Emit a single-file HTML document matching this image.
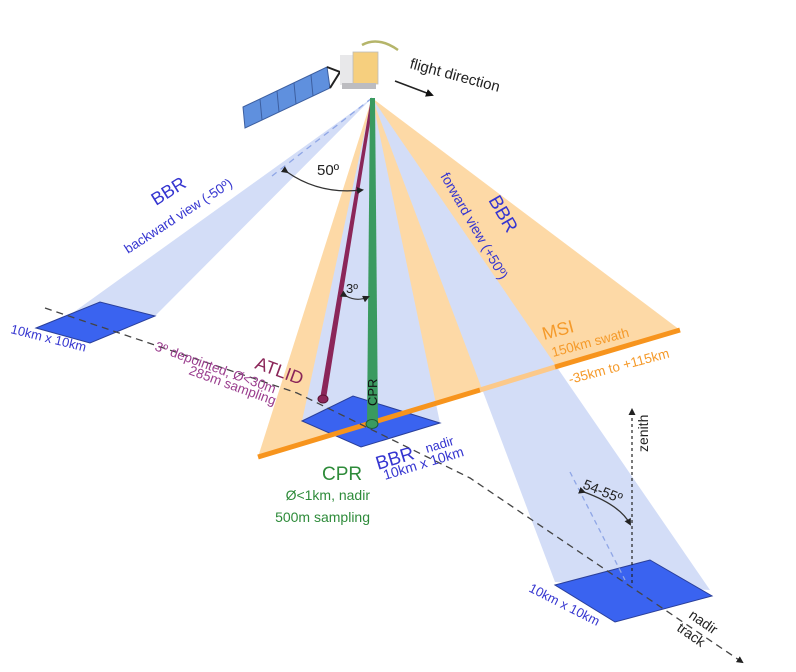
<!DOCTYPE html>
<html><head><meta charset="utf-8"><style>
html,body{margin:0;padding:0;background:#fff;}
svg{display:block;font-family:"Liberation Sans",sans-serif;}
</style></head><body>
<svg width="796" height="672" viewBox="0 0 796 672">
<defs>
<marker id="ah" markerWidth="8" markerHeight="8" refX="6" refY="4" orient="auto" markerUnits="userSpaceOnUse"><path d="M0,0 L8,4 L0,8 Z" fill="#111"/></marker>
<marker id="ahs" markerWidth="7" markerHeight="7" refX="5" refY="3.5" orient="auto" markerUnits="userSpaceOnUse"><path d="M0,0 L7,3.5 L0,7 Z" fill="#222"/></marker>
</defs>
<polygon points="372,98 258,457 680,330" fill="#fdd9a6"/>
<polygon points="372,98 60,322 155,316" fill="#d3ddf7"/>
<polygon points="372,98 302,421 440,423" fill="#d3ddf7"/>
<polygon points="372,98 555,582 710,590" fill="#d3ddf7"/>
<line x1="372" y1="98" x2="272" y2="176" stroke="#8fa6e6" stroke-width="1.3" stroke-dasharray="6,5"/>
<polygon points="36,328 100,302 155,316 90,343" fill="#3a63f0" stroke="#2a3f9a" stroke-width="1"/>
<polygon points="302,421 353,396 440,423 361,447" fill="#3a63f0" stroke="#2a3f9a" stroke-width="1"/>
<polygon points="555,585 650,560 712,596 615,622" fill="#3a63f0" stroke="#2a3f9a" stroke-width="1"/>
<line x1="258" y1="457" x2="480" y2="390" stroke="#f7941d" stroke-width="5"/>
<line x1="480" y1="390" x2="555" y2="367" stroke="#fcc98a" stroke-width="5"/>
<line x1="555" y1="367" x2="680" y2="330" stroke="#f7941d" stroke-width="5"/>
<polyline points="45,308 297,393 470,478 742,662" fill="none" stroke="#444" stroke-width="1.3" stroke-dasharray="7,5" marker-end="url(#ahs)"/>
<polygon points="371,98 374,98 326,399 320,399" fill="#8b2659"/>
<ellipse cx="323" cy="399" rx="5" ry="4" fill="#8b2659" stroke="#5a1030"/>
<polygon points="370,98 375,98 378,425 367,425" fill="#3a9a60"/>
<ellipse cx="372" cy="424" rx="6" ry="4.5" fill="#3a9a60" stroke="#1f5c36"/>
<text transform="translate(377,406) rotate(-90)" font-size="13" fill="#111">CPR</text>
<line x1="570" y1="472" x2="625" y2="580" stroke="#8fa6e6" stroke-width="1.3" stroke-dasharray="5,4"/>
<line x1="632" y1="583" x2="632" y2="410" stroke="#222" stroke-width="1.2" stroke-dasharray="3,3" marker-end="url(#ahs)"/>
<text transform="translate(648,452) rotate(-90)" font-size="14" fill="#222">zenith</text>
<path d="M287,172 Q320,195 362,190" fill="none" stroke="#333" stroke-width="1.3" marker-start="url(#ahs)" marker-end="url(#ahs)"/>
<text x="317" y="175" font-size="15" fill="#222">50º</text>
<path d="M346,296 Q357,302 368,297" fill="none" stroke="#333" stroke-width="1.1" marker-start="url(#ahs)" marker-end="url(#ahs)"/>
<text x="346" y="293" font-size="13" fill="#222">3º</text>
<path d="M584,492 Q620,505 630,524" fill="none" stroke="#333" stroke-width="1.3" marker-start="url(#ahs)" marker-end="url(#ahs)"/>
<text transform="translate(582,488) rotate(22)" font-size="14" fill="#222">54-55º</text>
<polygon points="243,107 327,67 330,88 245,128" fill="#5f90de" stroke="#3d5fa0" stroke-width="1"/>
<line x1="260" y1="99" x2="262" y2="120" stroke="#3d5fa0"/>
<line x1="277" y1="91" x2="279" y2="112" stroke="#3d5fa0"/>
<line x1="294" y1="83" x2="296" y2="104" stroke="#3d5fa0"/>
<line x1="311" y1="75" x2="313" y2="96" stroke="#3d5fa0"/>
<polyline points="327,67 340,72 330,88" fill="none" stroke="#222" stroke-width="2"/>
<rect x="340" y="55" width="16" height="30" fill="#e8e8ea"/>
<rect x="353" y="52" width="25" height="32" fill="#f6cf7e" stroke="#bbb" stroke-width="0.8"/>
<rect x="342" y="83" width="34" height="6" fill="#bcbcc0"/>
<path d="M362,45 Q378,36 398,50" fill="none" stroke="#b5b56a" stroke-width="2.5"/>
<line x1="395" y1="81" x2="432" y2="95" stroke="#222" stroke-width="1.5" marker-end="url(#ah)"/>
<text transform="translate(409,68) rotate(15)" font-size="15" fill="#222">flight direction</text>
<text transform="translate(156,206) rotate(-32)" font-size="18" fill="#3535d0">BBR</text>
<text transform="translate(128,254) rotate(-33)" font-size="13.5" fill="#3535d0">backward view (-50º)</text>
<text transform="translate(10,333) rotate(14)" font-size="13" fill="#3535d0">10km x 10km</text>
<text transform="translate(254,368) rotate(20)" font-size="18" fill="#8b2659">ATLID</text>
<text transform="translate(154,350) rotate(20)" font-size="13.5" fill="#9a3d8e">3º depointed, Ø&lt;30m</text>
<text transform="translate(188,374) rotate(20)" font-size="13.5" fill="#9a3d8e">285m sampling</text>
<text x="322" y="480" font-size="19" fill="#2e8b3a">CPR</text>
<text x="370" y="500" font-size="14" fill="#2e8b3a" text-anchor="end">Ø&lt;1km, nadir</text>
<text x="370" y="522" font-size="14" fill="#2e8b3a" text-anchor="end">500m sampling</text>
<text transform="translate(378,470) rotate(-17)" font-size="19" fill="#3535d0">BBR</text>
<text transform="translate(427,453) rotate(-17)" font-size="13" fill="#3535d0">nadir</text>
<text transform="translate(385,480) rotate(-17)" font-size="14" fill="#3535d0">10km x 10km</text>
<text transform="translate(488,200) rotate(60)" font-size="19" fill="#3535d0">BBR</text>
<text transform="translate(440,176) rotate(60)" font-size="14" fill="#3535d0">forward view (+50º)</text>
<text transform="translate(544,340) rotate(-15)" font-size="18" fill="#f59a2a">MSI</text>
<text transform="translate(553,357) rotate(-15)" font-size="13.5" fill="#f59a2a">150km swath</text>
<text transform="translate(570,384) rotate(-15)" font-size="13.5" fill="#f59a2a">-35km to +115km</text>
<text transform="translate(528,591) rotate(27)" font-size="13" fill="#3535d0">10km x 10km</text>
<text transform="translate(688,617) rotate(35)" font-size="14" fill="#222">nadir</text>
<text transform="translate(676,630) rotate(35)" font-size="14" fill="#222">track</text>
</svg>
</body></html>
